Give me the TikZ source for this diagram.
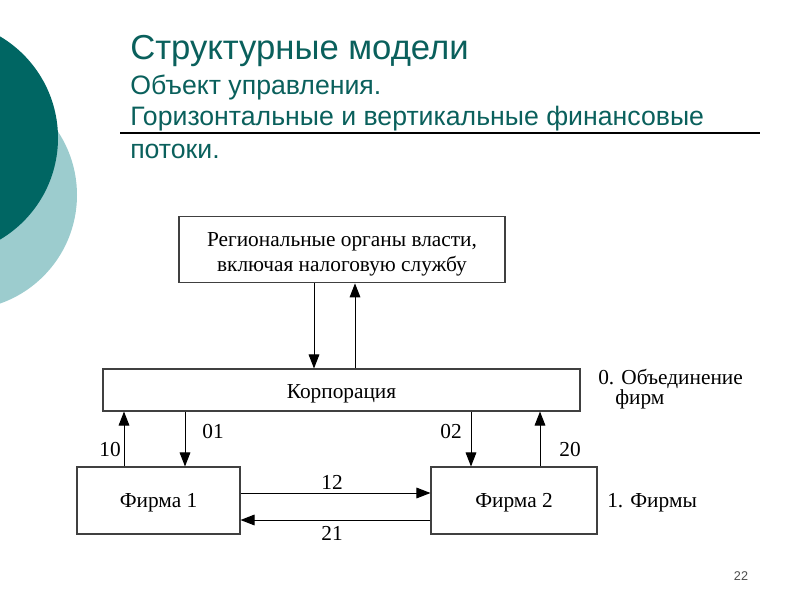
\documentclass[tikz,border=0pt]{standalone}
\usepackage{fontspec}
\setmainfont{Liberation Serif}
\newfontfamily\titlefont{Liberation Sans}
\usetikzlibrary{arrows.meta}
\definecolor{darkteal}{RGB}{0,102,99}
\definecolor{lightteal}{RGB}{156,204,206}
\definecolor{titlecol}{RGB}{10,96,92}
\tikzset{
  box/.style={draw=black!75, line width=0.8pt, inner sep=0pt, align=center, font=\fontsize{16}{19}\selectfont},
  arr/.style={line width=0.75pt, -{Triangle[length=10.5pt,width=8pt]}},
  lbl/.style={font=\fontsize{16}{18}\selectfont, inner sep=0pt}
}
\begin{document}
\begin{tikzpicture}[x=0.75pt,y=-0.75pt]
\useasboundingbox (0,0) rectangle (800,600);
% background circles
\begin{scope}
\clip (0,0) rectangle (800,600);
\fill[lightteal] (-38,195) circle (115);
\fill[darkteal] (-60,138) circle (118);
\end{scope}
% title
\node[anchor=base west, inner sep=0pt, text=titlecol, font=\titlefont\fontsize{26}{30}\selectfont] (t1) at (130,59) {Структурные модели};
\node[anchor=base west, inner sep=0pt, text=titlecol, font=\titlefont\fontsize{20}{24}\selectfont] (t2) at (130,94) {Объект управления.};
\node[anchor=base west, inner sep=0pt, text=titlecol, font=\titlefont\fontsize{20}{24}\selectfont] (t3) at (130,125) {Горизонтальные и вертикальные финансовые};
\node[anchor=base west, inner sep=0pt, text=titlecol, font=\titlefont\fontsize{20}{24}\selectfont] (t4) at (130,158) {потоки.};
\coordinate (ls) at (120,133);
\coordinate (le) at (760,133);
\draw[line width=0.8pt] (ls) -- (le);
% boxes
\node[box, minimum width=244.5pt, minimum height=50pt] (reg) at (342,249.5) {\rule{0pt}{18pt}Региональные органы власти,\\включая налоговую службу};
\node[box, minimum width=357.75pt, minimum height=31.5pt, text height=12pt, text depth=0pt] (corp) at (341.5,390) {Корпорация};
\node[box, minimum width=122.25pt, minimum height=50.25pt, text height=10pt, text depth=0pt] (f1) at (158.5,500.5) {Фирма 1};
\node[box, minimum width=124.5pt, minimum height=50.25pt, text height=10pt, text depth=0pt] (f2) at (514,500.5) {Фирма 2};
% column coordinates
\coordinate (xa) at (314,0);
\coordinate (xb) at (355,0);
\coordinate (x10) at (124,0);
\coordinate (x01) at (185,0);
\coordinate (x02) at (471,0);
\coordinate (x20) at (540,0);
\coordinate (y12) at (0,493);
\coordinate (y21) at (0,520);
% arrows
\draw[arr] (reg.south -| xa) -- (corp.north -| xa);
\draw[arr] (corp.north -| xb) -- (reg.south -| xb);
\draw[arr] (f1.north -| x10) -- (corp.south -| x10);
\draw[arr] (corp.south -| x01) -- (f1.north -| x01);
\draw[arr] (corp.south -| x02) -- (f2.north -| x02);
\draw[arr] (f2.north -| x20) -- (corp.south -| x20);
\draw[arr] (f1.east |- y12) -- (f2.west |- y12);
\draw[arr] (f2.west |- y21) -- (f1.east |- y21);
% labels
\node[lbl] (l10) at (110,450) {10};
\node[lbl] (l01) at (213,432) {01};
\node[lbl] (l02) at (451,432) {02};
\node[lbl] (l20) at (570,450) {20};
\node[lbl] (l12) at (332,482) {12};
\node[lbl] (l21) at (332,533) {21};
\node[lbl, anchor=base west] (o1) at (598,384) {0. Объединение};
\node[lbl, anchor=base west] (o2) at (615,404) {фирм};
\node[lbl, anchor=base west] (o3) at (607,507) {1. Фирмы};
\node[inner sep=0pt, text=black!70, font=\titlefont\fontsize{9.5}{11}\selectfont] (pg) at (741,576) {22};
\end{tikzpicture}
\end{document}
